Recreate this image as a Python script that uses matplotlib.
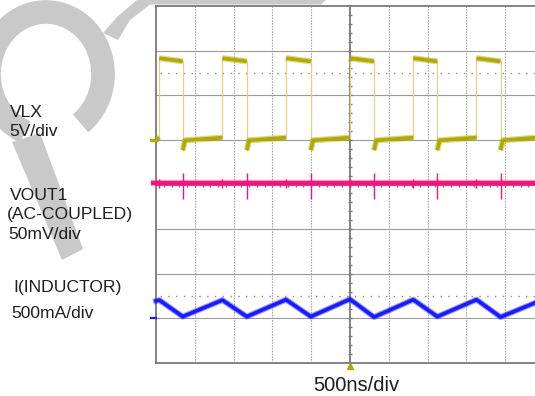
import numpy as np
import matplotlib.pyplot as plt
from matplotlib.patches import Arc, Polygon

# scope screen: 10 x 8 divisions, time axis 500ns/div
# times in divisions from the left border, levels in divisions from the bottom border
vlx_rise = [0.085, 1.71, 3.35, 5.0, 6.63, 8.26]
vlx_fall = [0.69, 2.34, 3.99, 5.62, 7.25, 8.88]
vlx_high = [6.83, 6.76]      # level at start / end of each pulse
vlx_low = [4.99, 5.05]       # level after undershoot / before next rise
vlx_under = 4.77
vlx_gnd = 5.0

vout_level = 4.03
vout_fall_spike = [3.67, 4.26]
vout_rise_spike = [3.92, 4.13]

il_t = [0.0, 0.085, 0.69, 1.71, 2.34, 3.35, 3.99, 5.0, 5.62, 6.63, 7.25, 8.26, 8.88, 9.8]
il_v = [1.39, 1.41, 1.04, 1.41, 1.04, 1.42, 1.04, 1.43, 1.03, 1.42, 1.04, 1.42, 1.03, 1.36]
il_gnd = 1.0

cursor_levels = [6.5, 1.5]
t_end = 9.8

yellow = '#b0aa00'
yellow_edge = '#d9d68a'
pink = '#f5127c'
blue = '#1a1aff'
grid_c = '#ababab'
frame_c = '#7a7a7a'
wm_c = '#c9c9c9'

fig = plt.figure(figsize=(5.35, 3.96), dpi=100)
fig.patch.set_facecolor('white')

# watermark layer in pixel coordinates
bg = fig.add_axes([0, 0, 1, 1], zorder=0)
bg.set_xlim(0, 535)
bg.set_ylim(396, 0)
bg.axis('off')
bg.add_patch(Arc((46, 74), 114, 124, angle=0, theta1=110, theta2=415, lw=17, color=wm_c))
bg.add_patch(Polygon([(12, 142), (40, 133), (83, 249), (62, 260)], color=wm_c, lw=0))
bg.add_patch(Polygon([(103, 33), (118, 40), (130, 20), (156, 0), (137, 0), (118, 16)],
                     color=wm_c, lw=0))
bg.add_patch(Polygon([(140, 0), (326, 0), (321, 4.5), (140, 4.5)], color=wm_c, lw=0))

ax = fig.add_axes([0, 0, 1, 1], zorder=1)
ax.set_xlim(-156 / 38.8, (535 - 156) / 38.8)
ax.set_ylim((363 - 396) / 44.625, 363 / 44.625)
ax.axis('off')

# graticule
for x in range(1, 10):
    if x != 5:
        ax.plot([x, x], [0, 8], color=grid_c, lw=0.8, ls=(0, (1.5, 1)), zorder=1)
for y in range(1, 8):
    if y != 4:
        ax.plot([0, 10], [y, y], color='#9a9a9a', lw=0.8, zorder=1)
for y in [0, 8, 4]:
    ax.plot([0, 10], [y, y], color=frame_c, lw=1.3, zorder=2)
for x in [0, 5]:
    ax.plot([x, x], [0, 8], color=frame_c, lw=1.3, zorder=2)
ax.hlines(np.arange(0.2, 8, 0.2), 4.95, 5.05, color=frame_c, lw=1.0, zorder=2)
ax.vlines(np.arange(0.2, 10, 0.2), 3.955, 4.045, color=frame_c, lw=1.0, zorder=2)
for lev in cursor_levels:
    ax.plot([0.1, 10], [lev, lev], color='#8c8c8c', lw=1.0, ls=(0, (1, 4.6)), zorder=2)

# VLX trace: light edges, fuzzy high/low plateaus
def fuzzy(xs, ys, color, core, halo):
    ax.plot(xs, ys, color=color, lw=halo, alpha=0.45, solid_capstyle='butt', zorder=4)
    ax.plot(xs, ys, color=color, lw=core, solid_capstyle='butt', zorder=4)

for r, f in zip(vlx_rise, vlx_fall):
    ax.plot([r, r], [vlx_low[1], vlx_high[0]], color=yellow_edge, lw=0.9, zorder=3)
    ax.plot([f, f], [vlx_high[1], vlx_under], color=yellow_edge, lw=0.9, zorder=3)
    fuzzy([r, f], vlx_high, yellow, 2.6, 4.4)
fuzzy([0, vlx_rise[0]], [vlx_gnd, vlx_low[1]], yellow, 2.6, 4.4)
nxt = vlx_rise[1:] + [t_end]
for f, r in zip(vlx_fall, nxt):
    fuzzy([f, f + 0.06, r], [vlx_under, vlx_low[0], vlx_low[1]], yellow, 2.6, 4.4)
ax.plot([-0.13, 0.0], [vlx_gnd, vlx_gnd], color=yellow, lw=2.2, zorder=4)

# VOUT1 trace
fuzzy([-0.13, t_end], [vout_level, vout_level], pink, 2.8, 4.6)
ax.vlines(vlx_fall, vout_fall_spike[0], vout_fall_spike[1], color=pink, lw=1.0, zorder=4)
ax.vlines(vlx_rise, vout_rise_spike[0], vout_rise_spike[1], color=pink, lw=1.0, zorder=4)

# inductor current
ax.plot(il_t, il_v, color=blue, lw=4.2, alpha=0.45, zorder=4)
ax.plot(il_t, il_v, color=blue, lw=2.6, zorder=4)
ax.plot([-0.13, 0.0], [il_gnd, il_gnd], color=blue, lw=1.6, zorder=4)

# trigger marker
ax.plot(5, -0.07, marker='^', ms=4, color=yellow, zorder=5, clip_on=False)

fs = 12.6
tc = '#1e1e1e'
font = 'Liberation Sans'
def label(x, y, s, size=fs):
    fig.text(x / 535, 1 - y / 396, s, fontsize=size, color=tc, family=font, va='baseline', ha='left')

label(10, 117, 'VLX')
label(9, 136, '5V/div')
label(10, 200, 'VOUT1')
label(7, 219, '(AC-COUPLED)')
label(8, 239, '50mV/div')
label(13, 292, 'I(INDUCTOR)')
label(11, 317.5, '500mA/div')
label(313, 391, '500ns/div', size=14.5)

fig.savefig('out.png', dpi=100)
